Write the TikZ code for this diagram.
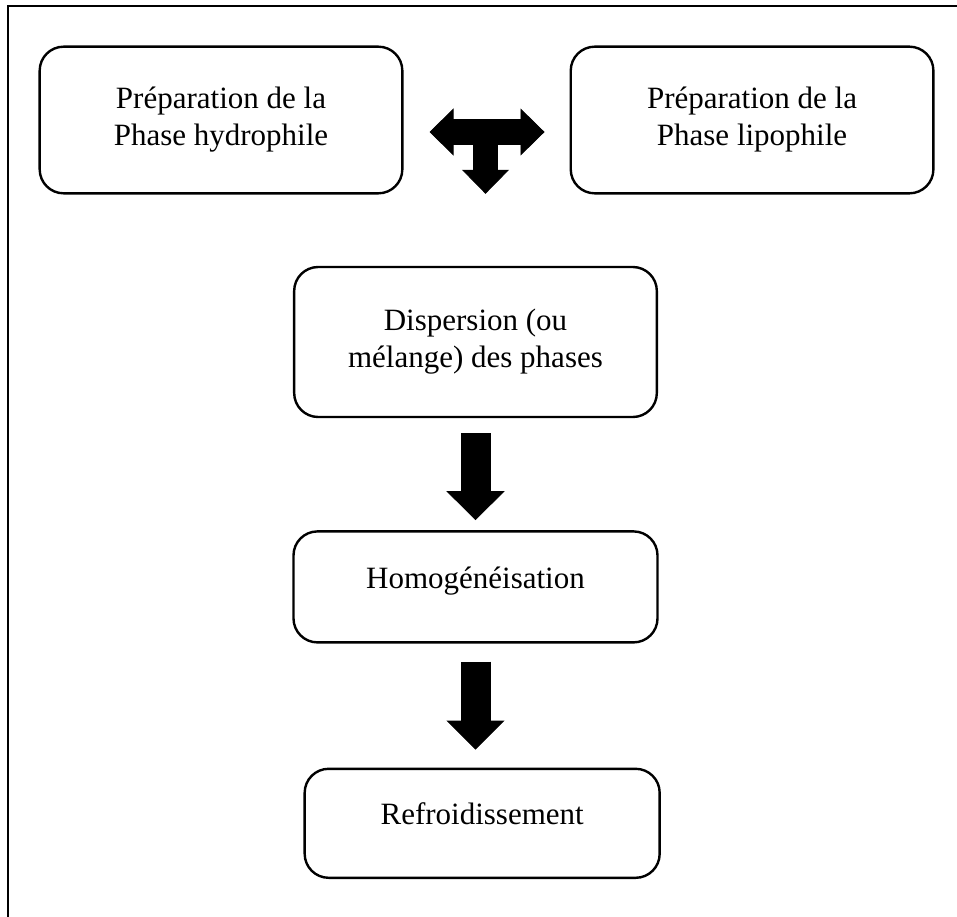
\documentclass[tikz,border=0pt]{standalone}
\usepackage{fontspec}
\setmainfont{Liberation Serif}
\usetikzlibrary{arrows.meta,positioning}
\tikzset{
  stepbox/.style={draw, line width=1.8pt, rounded corners=18pt, align=center,
    minimum width=272pt, minimum height=110pt, inner sep=4pt,
    font=\fontsize{23.25}{27.75}\selectfont},
  oneline/.style={text height=16pt, text depth=14pt},
  frame/.style={line width=2pt},
  fat/.style={line width=22.5pt, -{Triangle[length=21.75pt, width=43.5pt, line width=0.6pt]}},
  tee/.style={line width=18.75pt, -{Triangle[length=18pt, width=35.25pt, line width=0.6pt]}},
}

\begin{document}
\begin{tikzpicture}[x=0.75pt, y=-0.75pt]
  \useasboundingbox (0,0) rectangle (957,917);
  \draw[frame] (8,940) -- (8,6) -- (980,6);

  \node[stepbox] (hyd) at (221,120) {Préparation de la\\Phase hydrophile};
  \node[stepbox, right=124.5pt of hyd] (lip) {Préparation de la\\Phase lipophile};
  \node[stepbox, minimum height=112.5pt] (disp) at (475.5,342) {Dispersion (ou\\mélange) des phases};
  \node[stepbox, oneline, minimum width=273pt, minimum height=83.25pt, below=84pt of disp] (homog) {Homogénéisation};
  \node[stepbox, oneline, minimum width=266.25pt, minimum height=81.75pt, below=93pt of homog, xshift=5pt] (refr) {Refroidissement};

  % T-shaped arrow between the two phases
  \coordinate (mix) at (485.5,132);
  \draw[tee, shorten >=19.5pt] (mix) -- (mix -| hyd.east);
  \draw[tee, shorten >=18.75pt] (mix) -- (mix -| lip.west);
  \draw[tee, shorten >=54pt] (mix) -- (mix |- disp.north);

  \draw[fat, shorten <=11.25pt, shorten >=7.5pt] (disp.south) -- (homog.north);
  \draw[fat, shorten <=13.5pt, shorten >=13.5pt] (homog.south) -- (homog.south |- refr.north);
\end{tikzpicture}
\end{document}
